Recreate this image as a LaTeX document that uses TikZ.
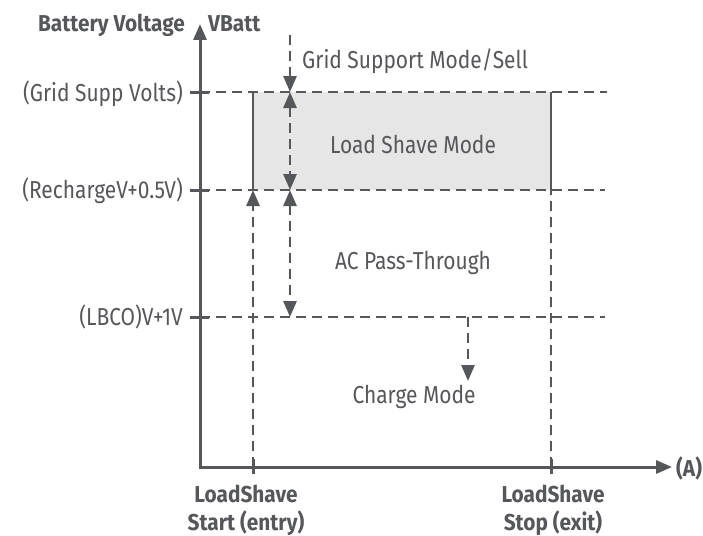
\documentclass[tikz,border=0pt]{standalone}
\usepackage{fontspec}
\setmainfont{Fira Sans}
\newfontfamily\regf{Fira Sans}[FakeStretch=0.855]
\newfontfamily\boldf{Fira Sans}[FakeStretch=0.905]
\usetikzlibrary{arrows.meta}
\definecolor{ink}{RGB}{85,87,90}
\definecolor{boxgray}{RGB}{230,230,230}
\tikzset{
  axisline/.style={draw=ink, line width=3pt},
  gridline/.style={draw=ink, line width=2.8pt, dash pattern=on 10pt off 6pt},
  edgeline/.style={draw=ink, line width=2.8pt},
  tip/.style={-{Triangle[length=16pt,width=13pt]}},
  dtip/.style={{Triangle[length=16pt,width=13pt]}-{Triangle[length=16pt,width=13pt]}},
  lbl/.style={text=ink, inner sep=0pt, font=\regf\fontsize{24.5}{28}\selectfont},
  blbl/.style={text=ink, inner sep=0pt, font=\boldf\bfseries\fontsize{23}{27}\selectfont},
}
\begin{document}
\begin{tikzpicture}[x=1pt,y=-1pt]
\useasboundingbox (0,0) rectangle (703,535);
% coordinates
\coordinate (O) at (200,467);
\coordinate (ytop) at (200,24);
\coordinate (xend) at (672,467);
\coordinate (g1a) at (200,92);  \coordinate (g1b) at (607,92);
\coordinate (g2a) at (200,190); \coordinate (g2b) at (605,190);
\coordinate (g3a) at (200,317); \coordinate (g3b) at (605,317);
\coordinate (s0) at (253,467); \coordinate (s1) at (253,190); \coordinate (s2) at (253,92);
\coordinate (e0) at (551,467); \coordinate (e1) at (551,190); \coordinate (e2) at (551,92);
\coordinate (a0) at (290,35); \coordinate (a1) at (290,92); \coordinate (a2) at (290,190); \coordinate (a3) at (290,317);
\coordinate (c0) at (468,317); \coordinate (c1) at (468,381);
% shaded region
\fill[boxgray] (s2) rectangle (e1);
% grid lines
\draw[gridline] (g1a) -- (g1b);
\draw[gridline] (g2a) -- (g2b);
\draw[gridline] (g3a) -- (g3b);
% box edges
\draw[edgeline] (s1) -- (s2);
\draw[edgeline] (e1) -- (e2);
% dashed verticals
\draw[gridline, tip] (s0) -- (s1);
\draw[gridline] (e0) -- (e1);
\draw[gridline, tip] (a0) -- (a1);
\draw[gridline, dtip] (a1) -- (a2);
\draw[gridline, dtip] (a2) -- (a3);
\draw[gridline, tip] (c0) -- (c1);
% axes
\draw[axisline, tip] (O) -- (ytop);
\draw[axisline, tip] ([xshift=-1.5pt]O) -- (xend);
% ticks
\foreach \p in {g1a,g2a,g3a}{\draw[axisline] ([xshift=-10pt]\p) -- ([xshift=9pt]\p);}
\foreach \p in {s0,e0}{\draw[axisline] ([yshift=-7pt]\p) -- ([yshift=8pt]\p);}
% labels
\node[blbl, anchor=base east] (ylab1) at (185,32) {Battery Voltage};
\node[blbl, anchor=base west] (ylab2) at (208,32) {VBatt};
\node[blbl, anchor=base west] (xlab) at (676,476) {(A)};
\node[lbl, anchor=base west] (gsm) at (302,68) {Grid Support Mode/Sell};
\node[lbl, anchor=base east] (l1) at (183,101) {(Grid Supp Volts)};
\node[lbl, anchor=base east] (l2) at (183,198) {(RechargeV+0.5V)};
\node[lbl, anchor=base east] (l3) at (183,325) {(LBCO)V+1V};
\node[lbl, anchor=base] (lsm) at (413,153) {Load Shave Mode};
\node[lbl, anchor=base] (acp) at (413,269) {AC Pass-Through};
\node[lbl, anchor=base] (chg) at (414,403) {Charge Mode};
\node[blbl, anchor=base] (st1) at (246,502) {LoadShave};
\node[blbl, anchor=base] (st2) at (246,530) {Start (entry)};
\node[blbl, anchor=base] (sp1) at (553,502) {LoadShave};
\node[blbl, anchor=base] (sp2) at (553,530) {Stop (exit)};
\end{tikzpicture}
\end{document}
